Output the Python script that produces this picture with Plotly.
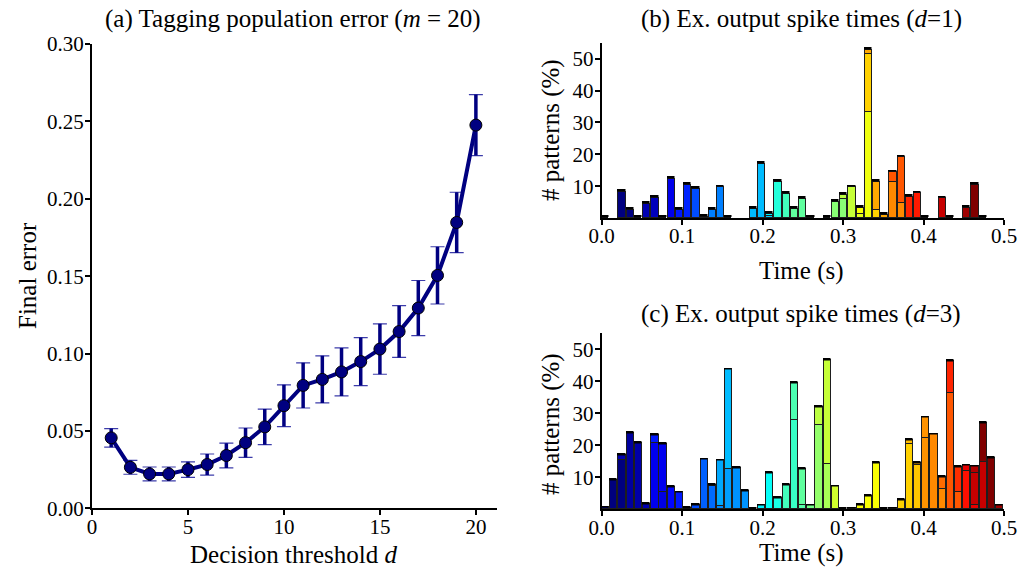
import numpy as np
import plotly.graph_objects as go

# ---------------- Panel (a): final error vs decision threshold ----------------
d_values = list(range(1, 21))
final_error = [0.0455, 0.0265, 0.0222, 0.0222, 0.0250, 0.0283, 0.0341, 0.0424, 0.0526, 0.0663,
               0.0794, 0.0833, 0.0881, 0.0948, 0.1029, 0.1142, 0.1294, 0.1505, 0.1847, 0.2476]
error_sd = [0.0060, 0.0045, 0.0045, 0.0045, 0.0050, 0.0068, 0.0080, 0.0095, 0.0115, 0.0135,
            0.0146, 0.0152, 0.0155, 0.0155, 0.0163, 0.0167, 0.0178, 0.0185, 0.0195, 0.0197]

# ---------------- Panel (b): spike time histogram, d=1 ----------------
# bin index (0..49 over 0-0.5 s), stacked segment heights (%) and jet colour positions (0..1)
b_bins = [0, 2, 3, 4, 5, 6, 7, 8, 9, 10, 11, 12, 13, 14, 15, 18, 19, 20, 21, 22, 23, 24, 25,
          27, 28, 29, 30, 31, 32, 33, 34, 35, 36, 37, 38, 39, 41, 42, 44, 45, 46]
b_h1 = [0.1, 8.3, 2.7, 0.1, 4.5, 6.5, 0.1, 12.5, 2.7, 10.6, 9.3, 0.5, 2.7, 9.8, 0.1, 3.1, 17.1, 0.8, 11.4, 7.7, 3.1, 6.1, 0.1,
        0.1, 5.3, 6.0, 9.8, 1.5, 33.4, 2.6, 1.1, 11.3, 4.7, 6.8, 7.9, 0.1, 6.3, 0.1, 3.4, 10.5, 0.1]
b_c1 = [0.0, 0.0, 0.0, 0.05, 0.05, 0.06, 0.10, 0.105, 0.15, 0.16, 0.20, 0.22, 0.25, 0.25, 0.27, 0.31, 0.31, 0.33, 0.41, 0.44, 0.47, 0.47, 0.50,
        0.52, 0.51, 0.51, 0.57, 0.60, 0.61, 0.67, 0.71, 0.74, 0.74, 0.84, 0.85, 0.87, 0.93, 0.94, 0.97, 1.0, 1.0]
b_h2 = [0, 0, 0, 0, 0, 0, 0, 0, 0, 0, 0, 0, 0, 0, 0, 0, 0, 0.7, 0, 0, 0, 0, 0,
        0, 0, 1.4, 0, 1.9, 18.0, 8.9, 0, 3.1, 14.5, 0, 0, 0, 0, 0, 0, 0, 0]
b_c2 = [0, 0, 0, 0, 0, 0, 0, 0, 0, 0, 0, 0, 0, 0, 0, 0, 0, 0.37, 0, 0, 0, 0, 0,
        0, 0, 0.56, 0, 0.62, 0.67, 0.71, 0, 0.79, 0.79, 0, 0, 0, 0, 0, 0, 0, 0]
b_h3 = [0, 0, 0, 0, 0, 0, 0, 0, 0, 0, 0, 0, 0, 0, 0, 0, 0, 0, 0, 0, 0, 0, 0,
        0, 0, 0, 0, 0, 1.4, 0, 0, 0, 0, 0, 0, 0, 0, 0, 0, 0, 0]
b_c3 = [0, 0, 0, 0, 0, 0, 0, 0, 0, 0, 0, 0, 0, 0, 0, 0, 0, 0, 0, 0, 0, 0, 0,
        0, 0, 0, 0, 0, 0.71, 0, 0, 0, 0, 0, 0, 0, 0, 0, 0, 0, 0]

# ---------------- Panel (c): spike time histogram, d=3 ----------------
c_bins = [0, 1, 2, 3, 4, 5, 6, 7, 8, 9, 10, 11, 12, 13, 14, 15, 16, 17, 18, 19, 20, 21, 22, 23, 24,
          25, 26, 27, 28, 29, 30, 31, 32, 33, 34, 35, 36, 37, 38, 39, 40, 41, 42, 43, 44, 45, 46, 47, 48]
c_h1 = [0.5, 9.2, 15.2, 23.8, 20.7, 1.7, 20.5, 5.3, 7.0, 5.2, 0.3, 1.4, 15.5, 7.1, 0.8, 12.5, 12.9, 5.6, 0.1, 1.2, 11.4, 3.5, 7.5, 27.7, 1.1,
        1.2, 26.1, 14.0, 7.1, 0.1, 0.2, 1.3, 4.2, 14.4, 0.1, 0.2, 2.8, 20.4, 13.6, 22.2, 23.4, 6.2, 36.3, 5.3, 11.8, 1.4, 14.6, 16.0, 1.1]
c_c1 = [0.0, 0.0, 0.0, 0.03, 0.04, 0.05, 0.11, 0.10, 0.13, 0.15, 0.17, 0.20, 0.22, 0.23, 0.26, 0.28, 0.27, 0.27, 0.30, 0.36, 0.38, 0.40, 0.44, 0.43, 0.46,
        0.49, 0.52, 0.54, 0.58, 0.58, 0.60, 0.62, 0.62, 0.62, 0.64, 0.65, 0.67, 0.67, 0.68, 0.73, 0.74, 0.74, 0.79, 0.79, 0.86, 0.90, 0.93, 1.0, 0.97]
c_h2 = [0, 0, 1.8, 0, 0, 0, 2.7, 15.1, 0, 0, 0, 0, 0, 0.5, 14.4, 31.2, 0, 0, 0, 0, 0, 0, 0, 11.7, 11.5,
        0, 5.8, 32.6, 0, 0, 0, 0, 0, 0, 0, 0, 0, 1.3, 0.8, 6.4, 0, 3.8, 10.0, 7.8, 1.8, 9.9, 12.4, 0, 0]
c_c2 = [0, 0, 0.05, 0, 0, 0, 0.15, 0.11, 0, 0, 0, 0, 0, 0.25, 0.29, 0.31, 0, 0, 0, 0, 0, 0, 0, 0.45, 0.47,
        0, 0.56, 0.57, 0, 0, 0, 0, 0, 0, 0, 0, 0, 0.69, 0.70, 0.73, 0, 0.77, 0.84, 0.83, 0.90, 0.93, 1.0, 0, 0]
c_h3 = [0, 0, 0, 0, 0, 0, 0, 0, 0, 0, 0, 0, 0, 0, 0, 0, 0, 0, 0, 0, 0, 0, 0, 0, 0,
        0, 0, 0, 0, 0, 0, 0, 0, 0, 0, 0, 0, 0, 0, 0, 0, 0, 0, 0, 0, 2.1, 0, 0, 0]
c_c3 = [0, 0, 0, 0, 0, 0, 0, 0, 0, 0, 0, 0, 0, 0, 0, 0, 0, 0, 0, 0, 0, 0, 0, 0, 0,
        0, 0, 0, 0, 0, 0, 0, 0, 0, 0, 0, 0, 0, 0, 0, 0, 0, 0, 0, 0, 0.95, 0, 0, 0]

N_BINS = 50
T_MAX = 0.5
BAR_W = 0.009
CAP_H = 0.5

bin_left = np.linspace(0, T_MAX, N_BINS)


def jet(v):
    r = min(max(1.5 - abs(4 * v - 3), 0), 1)
    g = min(max(1.5 - abs(4 * v - 2), 0), 1)
    b = min(max(1.5 - abs(4 * v - 1), 0), 1)
    return f"rgb({int(r*255)},{int(g*255)},{int(b*255)})"


FONT = "Liberation Serif"
fig = go.Figure()

# Panel (a)
navy = "rgb(0,0,128)"
fig.add_trace(go.Scatter(
    x=d_values, y=final_error, mode="markers",
    marker=dict(size=1, color="rgba(0,0,0,0)"),
    error_y=dict(type="data", array=error_sd, visible=True, color="rgb(60,60,170)", thickness=1.2, width=7),
    xaxis="x", yaxis="y", showlegend=False, hoverinfo="skip"))
fig.add_trace(go.Scatter(
    x=d_values, y=final_error, mode="lines+markers",
    line=dict(color=navy, width=4),
    marker=dict(size=12, color=navy, line=dict(color="black", width=1)),
    error_y=dict(type="data", array=error_sd, visible=True, color=navy, thickness=3.5, width=0),
    xaxis="x", yaxis="y", showlegend=False))


def add_hist(bins, layers, xa, ya):
    centers = bin_left[bins] + BAR_W / 2
    for heights, cols in layers:
        xs = [c for c, h in zip(centers, heights) if h > 0]
        ys = [h for h in heights if h > 0]
        cs = [jet(c) for c, h in zip(cols, heights) if h > 0]
        fig.add_trace(go.Bar(x=xs, y=ys, width=BAR_W, marker=dict(color=cs, line=dict(color="rgb(30,30,30)", width=1)),
                             xaxis=xa, yaxis=ya, showlegend=False))
    fig.add_trace(go.Bar(x=list(centers), y=[CAP_H] * len(centers), width=BAR_W,
                         marker=dict(color="black", line=dict(color="black", width=0.5)),
                         xaxis=xa, yaxis=ya, showlegend=False, hoverinfo="skip"))


add_hist(b_bins, [(b_h1, b_c1), (b_h2, b_c2), (b_h3, b_c3)], "x2", "y2")
add_hist(c_bins, [(c_h1, c_c1), (c_h2, c_c2), (c_h3, c_c3)], "x3", "y3")

W, H = 1019, 574


def px(x):
    return x / W


def py(y):
    return 1 - y / H


axis_common = dict(showline=True, linecolor="black", linewidth=2, ticks="outside", ticklen=5, tickwidth=1.5,
                   tickcolor="black", showgrid=False, zeroline=False, mirror=False, automargin=False,
                   tickfont=dict(family=FONT, size=21, color="black"))
xax = dict(ticklabelstandoff=-7, **axis_common)
yax = dict(ticklabelstandoff=-3, **axis_common)

fig.update_layout(
    width=W, height=H, margin=dict(l=0, r=0, t=0, b=0, autoexpand=False),
    paper_bgcolor="white", plot_bgcolor="white", barmode="stack", bargap=0,
    xaxis=dict(domain=[px(92), px(497)], range=[0, 21.1], tickvals=[0, 5, 10, 15, 20], anchor="y", **xax),
    yaxis=dict(domain=[py(508.3), py(44)], range=[0, 0.30], tickvals=[0, 0.05, 0.10, 0.15, 0.20, 0.25, 0.30],
               tickformat=".2f", anchor="x", **yax),
    xaxis2=dict(domain=[px(601.7), px(1004)], range=[0, 0.5], tickvals=[0, 0.1, 0.2, 0.3, 0.4, 0.5],
                tickformat=".1f", anchor="y2", **xax),
    yaxis2=dict(domain=[py(218.1), py(42.7)], range=[0, 55], tickvals=[10, 20, 30, 40, 50], anchor="x2", **yax),
    xaxis3=dict(domain=[px(601.7), px(1004)], range=[0, 0.5], tickvals=[0, 0.1, 0.2, 0.3, 0.4, 0.5],
                tickformat=".1f", anchor="y3", **xax),
    yaxis3=dict(domain=[py(509.3), py(333.3)], range=[0, 55], tickvals=[10, 20, 30, 40, 50], anchor="x3", **yax),
)


def label(text, x, y, size=25, angle=0):
    fig.add_annotation(text=text, x=px(x), y=py(y), xref="paper", yref="paper", showarrow=False,
                       xanchor="center", yanchor="middle", textangle=angle,
                       font=dict(family=FONT, size=size, color="black"))


label("(a) Tagging population error (<i>m</i> = 20)", 293, 19)
label("(b) Ex. output spike times (<i>d</i>=1)", 801, 19)
label("(c) Ex. output spike times (<i>d</i>=3)", 801, 314)
label("Decision threshold <i>d</i>", 293, 554)
label("Final error", 27, 276, angle=-90)
label("Time (s)", 801, 271)
label("Time (s)", 801, 553)
label("# patterns (%)", 551, 130, angle=-90)
label("# patterns (%)", 551, 424, angle=-90)

fig.write_html("out.html")
